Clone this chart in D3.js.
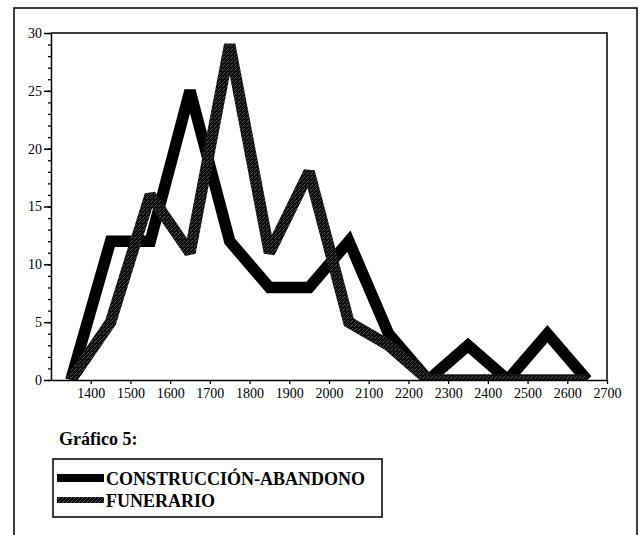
<!DOCTYPE html>
<html>
<head>
<meta charset="utf-8">
<script src="https://cdn.jsdelivr.net/npm/d3@7"></script>
<style>
  body { margin: 0; background: #fff; }
  svg text { font-family: "Liberation Serif", "Times New Roman", serif; fill: #000; }
</style>
</head>
<body>
<div id="vis"></div>
<script>
// data (centre of each 100-year bin)
const periods = [1350, 1450, 1550, 1650, 1750, 1850, 1950, 2050, 2150, 2250, 2350, 2450, 2550, 2650]
const construccion = [0, 12, 12, 25, 12, 8, 8, 12, 4, 0, 3, 0, 4, 0]
const funerario = [0, 5, 16, 11, 29, 11, 18, 5, 3, 0, 0, 0, 0, 0]

const xTicks = [1400, 1500, 1600, 1700, 1800, 1900, 2000, 2100, 2200, 2300, 2400, 2500, 2600, 2700]
const yTicks = [0, 5, 10, 15, 20, 25, 30]

const seriesNames = ['CONSTRUCCIÓN-ABANDONO', 'FUNERARIO']
const title = 'Gráfico 5:'

const W = 644, H = 535
const plot = { left: 51, right: 607, top: 33, bottom: 380 }

const svg = d3.select('#vis').append('svg')
  .attr('width', W)
  .attr('height', H)

// stipple pattern for the grey line
const defs = svg.append('defs')
const pat = defs.append('pattern')
  .attr('id', 'stipple')
  .attr('patternUnits', 'userSpaceOnUse')
  .attr('width', 4).attr('height', 4)
pat.append('rect').attr('width', 4).attr('height', 4).attr('fill', '#101010')
;[[0, 0], [2, 2], [3, 1]].forEach(p => {
  pat.append('rect').attr('x', p[0]).attr('y', p[1]).attr('width', 1).attr('height', 1).attr('fill', '#505050')
})

defs.append('clipPath').attr('id', 'plotclip')
  .append('rect')
  .attr('x', plot.left).attr('y', plot.top - 20)
  .attr('width', plot.right - plot.left)
  .attr('height', plot.bottom - plot.top + 20)

// outer frame
svg.append('rect')
  .attr('x', 14).attr('y', 8)
  .attr('width', 623).attr('height', 545)
  .attr('fill', 'none').attr('stroke', '#000').attr('stroke-width', 1.5)

const x = d3.scaleLinear().domain([1300, 2700]).range([plot.left, plot.right])
const y = d3.scaleLinear().domain([0, 30]).range([plot.bottom, plot.top])

// minor y ticks
svg.append('g')
  .attr('transform', `translate(${plot.left},0)`)
  .call(d3.axisLeft(y).tickValues(d3.range(0, 31)).tickSize(3).tickFormat(''))
  .call(g => g.select('.domain').remove())
  .call(g => g.selectAll('line').attr('stroke-width', 1.3))

// major y axis
svg.append('g')
  .attr('transform', `translate(${plot.left},0)`)
  .call(d3.axisLeft(y).tickValues(yTicks).tickSize(7).tickSizeOuter(0).tickPadding(2))
  .call(g => g.select('.domain').attr('stroke-width', 1.5))
  .call(g => g.selectAll('line').attr('stroke-width', 1.5))
  .call(g => g.selectAll('text').style('font-size', '14px').attr('font-family', null))

// x axis
svg.append('g')
  .attr('transform', `translate(0,${plot.bottom})`)
  .call(d3.axisBottom(x).tickValues(xTicks).tickSize(4).tickSizeOuter(0).tickPadding(4).tickFormat(d3.format('d')))
  .call(g => g.select('.domain').attr('stroke-width', 1.5))
  .call(g => g.selectAll('line').attr('stroke-width', 1.3))
  .call(g => g.selectAll('text').style('font-size', '14px').attr('font-family', null))

// top and right frame of plot
svg.append('path')
  .attr('d', `M${plot.left},${plot.top}H${plot.right}V${plot.bottom}`)
  .attr('fill', 'none').attr('stroke', '#000').attr('stroke-width', 1.5)

const line = d3.line()
  .x((d, i) => x(periods[i]))
  .y(d => y(d))

const lines = svg.append('g').attr('clip-path', 'url(#plotclip)')

lines.append('path')
  .datum(construccion)
  .attr('d', line)
  .attr('fill', 'none')
  .attr('stroke', '#000')
  .attr('stroke-width', 11.5)
  .attr('stroke-linejoin', 'miter')
  .attr('stroke-miterlimit', 2)

lines.append('path')
  .datum(funerario)
  .attr('d', line)
  .attr('fill', 'none')
  .attr('stroke', 'url(#stipple)')
  .attr('stroke-width', 11.5)
  .attr('stroke-linejoin', 'miter')
  .attr('stroke-miterlimit', 2)

// caption
svg.append('text')
  .attr('x', 59).attr('y', 445)
  .style('font-size', '18px').style('font-weight', 'bold')
  .text(title)

// legend
const lg = svg.append('g')
lg.append('rect')
  .attr('x', 53).attr('y', 459)
  .attr('width', 329).attr('height', 58)
  .attr('fill', 'none').attr('stroke', '#000').attr('stroke-width', 1.5)

const swatch = ['#000', 'url(#stipple)']
const swatchWidth = [8, 6]
seriesNames.forEach((name, i) => {
  const yy = 478 + i * 22
  lg.append('line')
    .attr('x1', 57).attr('x2', 104)
    .attr('y1', yy).attr('y2', yy)
    .attr('stroke', swatch[i]).attr('stroke-width', swatchWidth[i])
  lg.append('text')
    .attr('x', 106).attr('y', yy + 7)
    .style('font-size', '18px').style('font-weight', 'bold')
    .text(name)
})
</script>
</body>
</html>
